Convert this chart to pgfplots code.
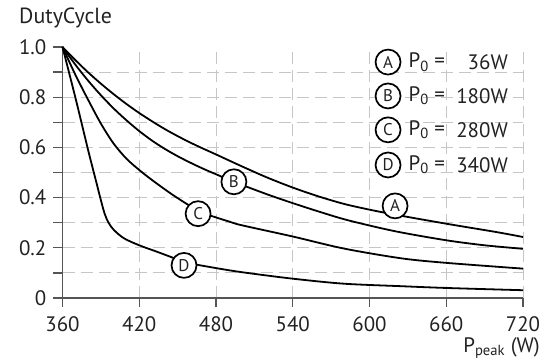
\documentclass[border=0pt]{standalone}
\usepackage{pgfplots}
\pgfplotsset{compat=1.18}
\usepackage{fontspec}
\setmainfont{PT Sans}
\definecolor{axcol}{HTML}{555555}
\definecolor{txt}{HTML}{222222}
\begin{document}
\fontsize{21}{25}\selectfont
\begin{tikzpicture}[x=1bp,y=1bp,
  lbl/.style={circle, draw=black, line width=1.7bp, fill=white, minimum size=25bp, inner sep=0pt, font=\fontsize{17}{20}\selectfont, text=txt}]
\useasboundingbox (-62.5,-64) rectangle (480.5,298);
\begin{axis}[
  at={(0,0)}, anchor=south west,
  scale only axis, width=460.5bp, height=251bp,
  xmin=360, xmax=720, ymin=0, ymax=1,
  axis lines=left,
  axis line style={-, line width=1.3bp, axcol},
  xtick={360,420,480,540,600,660,720},
  xticklabels={360,420,480,540,600,660,720},
  ytick={0,0.2,0.4,0.6,0.8,1},
  yticklabels={0,0.2,0.4,0.6,0.8,1.0},
  extra y ticks={0.1,0.2,0.3,0.4,0.5,0.6,0.7,0.8,0.9},
  extra y tick labels={},
  extra y tick style={grid=major},
  xmajorgrids=true,
  major grid style={gray!45, line width=0.9bp, dash pattern=on 12bp off 6bp},
  tick align=outside,
  major tick length=9bp,
  tick style={line width=1.3bp, axcol},
  ticklabel style={font=\fontsize{21}{25}\selectfont, text=txt},
  xticklabel style={yshift=-2bp},
  clip=false,
]
\addplot[black, line width=1.8bp, smooth, tension=0.5] coordinates {
(360,1.0) (370,0.948) (380,0.899) (390,0.854) (400,0.812) (410,0.773) (420,0.737)
(430,0.704) (440,0.673) (450,0.645) (460,0.619) (470,0.595) (480,0.572)
(500,0.525) (520,0.48) (540,0.44) (560,0.405) (580,0.375) (600,0.352)
(620,0.332) (660,0.296) (700,0.262) (720,0.243)};
\addplot[black, line width=1.8bp, smooth, tension=0.5] coordinates {
(360,1.0) (370,0.930) (380,0.866) (390,0.808) (400,0.755) (410,0.708) (420,0.665)
(430,0.627) (440,0.594) (450,0.565) (460,0.539) (470,0.515) (480,0.493)
(494,0.463) (520,0.413) (540,0.378) (560,0.345) (583,0.31) (620,0.266)
(660,0.23) (690,0.21) (720,0.196)};
\addplot[black, line width=1.8bp, smooth, tension=0.5] coordinates {
(360,1.0) (370,0.89) (380,0.79) (390,0.695) (400,0.615) (410,0.555) (420,0.51)
(430,0.47) (445,0.415) (458,0.372) (467,0.345) (477,0.326) (490,0.305)
(500,0.29) (540,0.245) (580,0.197) (625,0.158) (660,0.14) (720,0.117)};
\addplot[black, line width=1.8bp, smooth, tension=0.5] coordinates {
(360,1.0) (370,0.80) (380,0.59) (386,0.47) (390,0.39) (393,0.335) (396,0.30)
(400,0.272) (408,0.238) (420,0.21) (434,0.184) (445,0.163) (456,0.142)
(478,0.121) (500,0.103) (540,0.077) (580,0.057) (625,0.047) (660,0.04) (720,0.031)};
\node[lbl] at (axis cs:620,0.367) {A};
\node[lbl] at (axis cs:494,0.463) {B};
\node[lbl] at (axis cs:466,0.336) {C};
\node[lbl] at (axis cs:455,0.13) {D};
% legend
\node[lbl] at (axis cs:614.5,0.94) {A};
\node[lbl] at (axis cs:614.5,0.805) {B};
\node[lbl] at (axis cs:614.5,0.67) {C};
\node[lbl] at (axis cs:614.5,0.53) {D};
\node[anchor=west, inner sep=0pt, text=txt] at (axis cs:630.4,0.94) {P\textsubscript{0} =};
\node[anchor=west, inner sep=0pt, text=txt] at (axis cs:630.4,0.805) {P\textsubscript{0} =};
\node[anchor=west, inner sep=0pt, text=txt] at (axis cs:630.4,0.67) {P\textsubscript{0} =};
\node[anchor=west, inner sep=0pt, text=txt] at (axis cs:630.4,0.53) {P\textsubscript{0} =};
\node[anchor=east, inner sep=0pt, text=txt] at (axis cs:708.3,0.94) {36W};
\node[anchor=east, inner sep=0pt, text=txt] at (axis cs:708.3,0.805) {180W};
\node[anchor=east, inner sep=0pt, text=txt] at (axis cs:708.3,0.67) {280W};
\node[anchor=east, inner sep=0pt, text=txt] at (axis cs:708.3,0.53) {340W};
\end{axis}
\node[anchor=west, inner sep=0pt, text=txt, font=\fontsize{22}{26}\selectfont] at (-43.5,280.5) {DutyCycle};
\node[anchor=east, inner sep=0pt, text=txt] at (477.5,-50) {P\textsubscript{peak} (W)};
\end{tikzpicture}
\end{document}
